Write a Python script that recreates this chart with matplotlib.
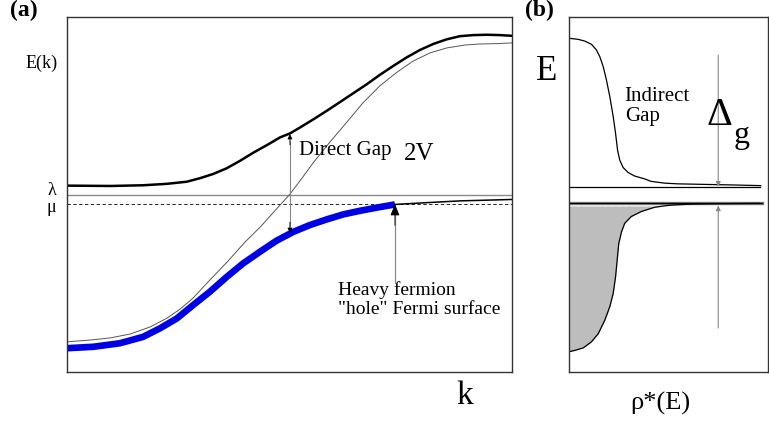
import numpy as np
import matplotlib
matplotlib.use("Agg")
import matplotlib.pyplot as plt

plt.rcParams['font.family'] = ['Liberation Serif', 'DejaVu Serif']

#-----------------------------------------------------------------------------
# panel (a): band structure E(k) (k and E in [0,1])
k_upper = [0.000, 0.097, 0.171, 0.224, 0.269, 0.299, 0.329, 0.359, 0.389, 0.419,
           0.449, 0.479, 0.501, 0.524, 0.554, 0.584, 0.613, 0.643, 0.673, 0.703,
           0.733, 0.763, 0.793, 0.823, 0.853, 0.883, 0.913, 0.943, 0.973, 1.000]
E_upper = [0.525, 0.524, 0.526, 0.530, 0.536, 0.546, 0.558, 0.574, 0.595, 0.618,
           0.639, 0.661, 0.672, 0.689, 0.712, 0.736, 0.760, 0.785, 0.810, 0.837,
           0.862, 0.886, 0.907, 0.924, 0.937, 0.946, 0.949, 0.950, 0.949, 0.947]

k_bare = [0.000, 0.052, 0.097, 0.142, 0.187, 0.225, 0.254, 0.283, 0.321, 0.360,
          0.400, 0.434, 0.467, 0.501, 0.528, 0.553, 0.591, 0.629, 0.665, 0.703,
          0.742, 0.778, 0.816, 0.854, 0.894, 0.928, 0.966, 1.000]
E_bare = [0.085, 0.090, 0.096, 0.107, 0.127, 0.152, 0.177, 0.208, 0.259, 0.310,
          0.366, 0.408, 0.454, 0.501, 0.546, 0.589, 0.648, 0.704, 0.758, 0.806,
          0.845, 0.876, 0.899, 0.913, 0.921, 0.924, 0.925, 0.927]

k_filled = [0.000, 0.059, 0.119, 0.171, 0.209, 0.247, 0.284, 0.321, 0.359, 0.396,
            0.434, 0.471, 0.509, 0.546, 0.584, 0.621, 0.658, 0.696, 0.737]
E_filled = [0.067, 0.071, 0.081, 0.099, 0.123, 0.151, 0.189, 0.226, 0.268, 0.306,
            0.339, 0.370, 0.395, 0.414, 0.430, 0.444, 0.454, 0.463, 0.472]

k_empty = [0.737, 0.808, 0.883, 1.000]
E_empty = [0.472, 0.477, 0.482, 0.486]

E_lambda = 0.499
E_mu = 0.473
k_gap = 0.501
gap_lo, gap_hi = 0.392, 0.670
k_fermi = 0.737
fermi_tail = 0.251

#-----------------------------------------------------------------------------
# panel (b): density of states rho*(E)
rho_up = [0.000, 0.047, 0.080, 0.113, 0.138, 0.155, 0.172, 0.188, 0.205, 0.222,
          0.234, 0.244, 0.255, 0.272, 0.297, 0.330, 0.380, 0.412, 0.480, 0.547,
          0.814, 0.964]
E_up = [0.940, 0.937, 0.932, 0.923, 0.907, 0.888, 0.860, 0.823, 0.776, 0.720,
        0.672, 0.625, 0.597, 0.576, 0.562, 0.552, 0.544, 0.537, 0.532, 0.530,
        0.527, 0.525]

rho_low = [0.955, 0.730, 0.614, 0.514, 0.480, 0.430, 0.363, 0.313, 0.280, 0.264,
           0.250, 0.242, 0.234, 0.222, 0.205, 0.180, 0.147, 0.113, 0.072, 0.030,
           0.000]
E_low = [0.475, 0.474, 0.473, 0.470, 0.468, 0.464, 0.452, 0.438, 0.419, 0.395,
         0.362, 0.315, 0.268, 0.221, 0.184, 0.146, 0.108, 0.085, 0.068, 0.061,
         0.057]

E_top_edge = 0.522
E_bot_edge = 0.475
E_mu_b = 0.468
rho_gap = 0.75
gap_arrow_top = 0.893
gap_arrow_bot = 0.124

#-----------------------------------------------------------------------------
W, H = 769, 421
fig = plt.figure(figsize=(W/100, H/100), dpi=100)

def px(x, y):
    return x/W, 1 - y/H

ax = fig.add_axes([67/W, 1-372/H, 445/W, 355/H])
ax.plot([0, 1], [E_lambda, E_lambda], color="#8a8a8a", lw=1.0)
ax.plot([0, 1], [E_mu, E_mu], color="black", lw=0.6, ls=(0, (4, 3)))
ax.plot(k_bare, E_bare, color="#555555", lw=0.7)
ax.plot(k_upper, E_upper, color="black", lw=1.8, solid_capstyle="butt",
        solid_joinstyle="round")
ax.plot(k_filled, E_filled, color="#0000e6", lw=4.8, solid_capstyle="butt",
        solid_joinstyle="round")
ax.plot(k_empty, E_empty, color="black", lw=1.1)

# direct gap arrow
ax.plot([k_gap, k_gap], [gap_lo + 0.02, gap_hi - 0.02], color="#888888", lw=0.8)
for tip, tail in [(gap_hi, gap_hi - 0.03), (gap_lo, gap_lo + 0.03)]:
    ax.annotate("", xy=(k_gap, tip), xytext=(k_gap, tail),
                arrowprops=dict(arrowstyle="-|>", fc="black", ec="black", lw=0.6,
                                mutation_scale=7, shrinkA=0, shrinkB=0))
ax.text(0.522, 0.625, "Direct Gap", fontsize=15, va="center", ha="left")
ax.text(0.757, 0.615, "2V", fontsize=18, va="center", ha="left")

# heavy fermion arrow
ax.plot([k_fermi, k_fermi], [fermi_tail, E_mu - 0.03], color="#888888", lw=0.9)
ax.annotate("", xy=(k_fermi, E_mu), xytext=(k_fermi, E_mu - 0.06),
            arrowprops=dict(arrowstyle="-|>,head_length=0.5,head_width=0.2",
                            fc="black", ec="black", lw=0.6,
                            mutation_scale=14, shrinkA=0, shrinkB=0))
ax.text(0.61, 0.203, 'Heavy fermion\n"hole" Fermi surface', fontsize=14,
        va="center", ha="left", linespacing=1.15)

ax.set_xlim(0, 1)
ax.set_ylim(0, 1)
ax.set_xticks([])
ax.set_yticks([])
for s in ax.spines.values():
    s.set_linewidth(1.0)
    s.set_color("#333333")

#-----------------------------------------------------------------------------
bx = fig.add_axes([569/W, 1-372/H, 199/W, 355/H])
E_low_fill = [e for e in E_low if e <= E_mu_b]
rho_low_fill = [r for r, e in zip(rho_low, E_low) if e <= E_mu_b]
bx.fill_betweenx(E_low_fill, 0, rho_low_fill, color="#bdbdbd", lw=0)
bx.plot([0, rho_low_fill[0]], [E_mu_b, E_mu_b], color="#e0e0e0", lw=0.7,
        ls=(0, (4, 3)))
bx.plot(rho_up, E_up, color="black", lw=0.9)
bx.plot([0, 0.96], [E_top_edge, E_top_edge], color="black", lw=0.9)
bx.plot([0, 0.97], [E_bot_edge, E_bot_edge], color="#777777", lw=2.4)
bx.plot([0, 0.97], [E_bot_edge, E_bot_edge], color="black", lw=0.8)
bx.plot(rho_low, E_low, color="black", lw=0.9)

# indirect gap arrows
bx.annotate("", xy=(rho_gap, E_top_edge), xytext=(rho_gap, gap_arrow_top),
            arrowprops=dict(arrowstyle="-|>", color="#888888", lw=0.8,
                            mutation_scale=7, shrinkA=0, shrinkB=0))
bx.annotate("", xy=(rho_gap, E_bot_edge - 0.006), xytext=(rho_gap, gap_arrow_bot),
            arrowprops=dict(arrowstyle="-|>", color="#888888", lw=0.8,
                            mutation_scale=7, shrinkA=0, shrinkB=0))
bx.text(0.28, 0.748, "Indirect\nGap", fontsize=15, va="center", ha="left",
        linespacing=1.05)
bx.text(0.69, 0.722, "Δ", fontsize=29, va="center", ha="left")
bx.text(0.825, 0.665, "g", fontsize=23, va="center", ha="left")

bx.set_xlim(0, 1)
bx.set_ylim(0, 1)
bx.set_xticks([])
bx.set_yticks([])
for s in bx.spines.values():
    s.set_linewidth(1.0)
    s.set_color("#333333")

#-----------------------------------------------------------------------------
fig.text(*px(24, 10), "(a)", fontsize=17, fontweight="bold", ha="center", va="center")
fig.text(*px(539, 10), "(b)", fontsize=17, fontweight="bold", ha="center", va="center")
fig.text(*px(42, 63), "E(k)", fontsize=13, ha="center", va="center")
fig.text(*px(52, 191), "λ", fontsize=13, ha="center", va="center")
fig.text(*px(51, 208), "μ", fontsize=13, ha="center", va="center")
fig.text(*px(465, 396), "k", fontsize=24, ha="center", va="center")
fig.text(*px(547, 72), "E", fontsize=25, ha="center", va="center")
fig.text(*px(660, 403), "ρ*(E)", fontsize=19, ha="center", va="center")

fig.savefig("out.png", dpi=100)
